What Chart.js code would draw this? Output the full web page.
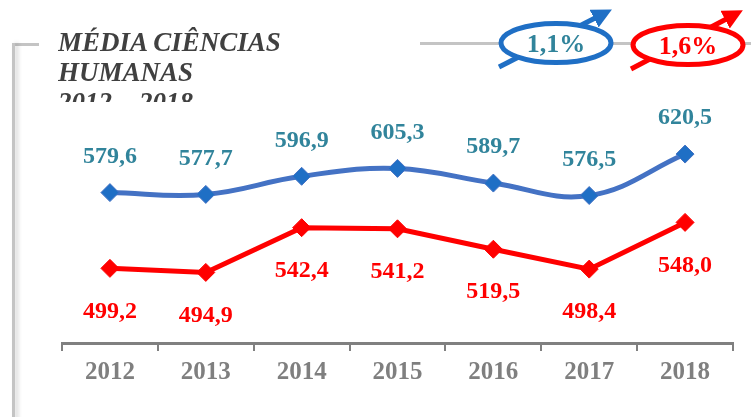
<!DOCTYPE html>
<html>
<head>
<meta charset="utf-8">
<script src="https://cdn.jsdelivr.net/npm/chart.js@4.4.0/dist/chart.umd.min.js"></script>
<style>
  html, body { margin: 0; padding: 0; background: #fff; }
  #wrap { position: relative; width: 751px; height: 417px; overflow: hidden; }
  #mycanvas { position: absolute; left: 0; top: 0; }
  .frameTop1 { position: absolute; left: 12px; top: 43px; width: 27px; height: 3px; background: #c4c4c4; }
  .frameTop2 { position: absolute; left: 420px; top: 42px; width: 331px; height: 3px; background: #c4c4c4; }
  .frameLeft { position: absolute; left: 12px; top: 43px; width: 3px; height: 380px; background: #c4c4c4;
               box-shadow: 3px 0 4px rgba(0,0,0,0.18); }
  #titulo { position: absolute; left: 58px; top: 27px; height: 75px; overflow: hidden;
            font-family: "Liberation Serif", serif; font-weight: bold; font-style: italic;
            font-size: 27px; line-height: 30px; color: #404040; }
  #ovais { position: absolute; left: 0; top: 0; }
</style>
</head>
<body>
<div id="wrap">
  <canvas id="mycanvas" width="751" height="417"></canvas>
  <div class="frameTop1"></div>
  <div class="frameTop2"></div>
  <div class="frameLeft"></div>
  <div id="titulo">MÉDIA CIÊNCIAS<br>HUMANAS<br>2012 – 2018</div>
  <svg id="ovais" width="751" height="90">
    <defs>
      <marker id="setaAzul" markerWidth="4" markerHeight="4" refX="2" refY="2" orient="auto">
        <path d="M0,0 L4,2 L0,4 z" fill="#1f6fc5"/>
      </marker>
      <marker id="setaVerm" markerWidth="4" markerHeight="4" refX="2" refY="2" orient="auto">
        <path d="M0,0 L4,2 L0,4 z" fill="#ff0000"/>
      </marker>
    </defs>
    <line x1="499" y1="67" x2="603" y2="14" stroke="#1f6fc5" stroke-width="5" marker-end="url(#setaAzul)"/>
    <ellipse cx="556" cy="43" rx="55" ry="19.5" fill="#fff" stroke="#1f6fc5" stroke-width="5"/>
    <text x="556" y="52" text-anchor="middle" font-family="Liberation Serif" font-weight="bold" font-size="26" fill="#31849b">1,1%</text>
    <line x1="631" y1="69" x2="734" y2="15" stroke="#ff0000" stroke-width="5" marker-end="url(#setaVerm)"/>
    <ellipse cx="688" cy="45" rx="55" ry="19.5" fill="#fff" stroke="#ff0000" stroke-width="5"/>
    <text x="688" y="54" text-anchor="middle" font-family="Liberation Serif" font-weight="bold" font-size="26" fill="#ff0000">1,6%</text>
  </svg>
</div>
<script>
var anos = ["2012", "2013", "2014", "2015", "2016", "2017", "2018"];
var mediaAzul = [579.6, 577.7, 596.9, 605.3, 589.7, 576.5, 620.5];
var mediaVermelha = [499.2, 494.9, 542.4, 541.2, 519.5, 498.4, 548.0];

function formata(v) {
	return v.toFixed(1).replace(".", ",");
}

var rotulos = {
	id: 'rotulos',
	afterDatasetsDraw: function(chart) {
		var ctx = chart.ctx;
		ctx.save();
		ctx.font = "bold 24px 'Liberation Serif'";
		ctx.textAlign = "center";
		ctx.textBaseline = "middle";
		chart.data.datasets.forEach(function(ds, i) {
			var meta = chart.getDatasetMeta(i);
			meta.data.forEach(function(pt, j) {
				ctx.fillStyle = ds.corRotulo;
				var dy = i === 0 ? -36 : 43;
				ctx.fillText(formata(ds.data[j]), pt.x, pt.y + dy);
			});
		});
		ctx.restore();
	}
};

var ctx = document.getElementById("mycanvas");

var grafico = new Chart(ctx, {
	type: 'line',
	data: {
		labels: anos,
		datasets: [
			{
				label: 'Azul',
				data: mediaAzul,
				borderColor: '#4472c4',
				borderWidth: 5,
				tension: 0.4,
				pointStyle: 'rectRot',
				pointRadius: 9,
				pointBackgroundColor: '#1f6fc5',
				pointBorderColor: '#4472c4',
				pointBorderWidth: 1,
				corRotulo: '#31849b'
			},
			{
				label: 'Vermelha',
				data: mediaVermelha,
				borderColor: '#ff0000',
				borderWidth: 5,
				tension: 0,
				pointStyle: 'rectRot',
				pointRadius: 9,
				pointBackgroundColor: '#ff0000',
				pointBorderColor: '#ff0000',
				pointBorderWidth: 1,
				corRotulo: '#ff0000'
			}
		]
	},
	options: {
		responsive: false,
		animation: false,
		layout: { padding: { left: 62, right: 18, top: 98, bottom: 22 } },
		plugins: { legend: { display: false }, tooltip: { enabled: false } },
		scales: {
			x: {
				offset: true,
				grid: { offset: true, drawOnChartArea: false, drawTicks: true, tickLength: 8, color: '#808080', lineWidth: 2 },
				border: { display: true, color: '#808080', width: 3 },
				ticks: { color: '#7f7f7f', padding: 7, font: { family: 'Liberation Serif', weight: 'bold', size: 25 } }
			},
			y: {
				display: false,
				min: 420,
				max: 680
			}
		}
	},
	plugins: [rotulos]
});
</script>
</body>
</html>
